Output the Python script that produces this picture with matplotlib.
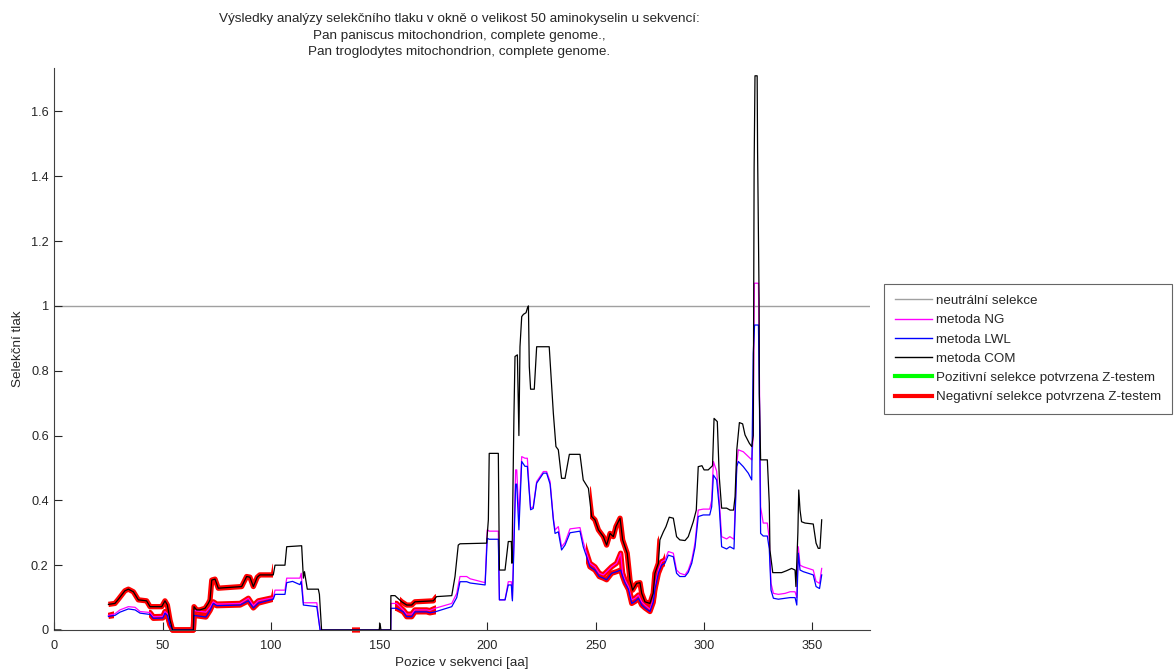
import numpy as np
import matplotlib
matplotlib.use("Agg")
import matplotlib.pyplot as plt
from matplotlib.patches import Rectangle
from matplotlib.lines import Line2D
from matplotlib.ticker import FormatStrFormatter

plt.rcParams['font.family'] = ['Liberation Sans', 'DejaVu Sans']

# ---------------- data ----------------
com_x = [0, 3, np.nan,
         25, 28, 29.6, 32.6, 34.2, 36.5, 38.8, 42.6, 44.2, 49.6, 51.1, 52.2, 53.4, 54.6, 64.2, 64.5,
         65.7, 67.2, 69.6, 71.1, 71.9, 72.7, 74.2, 75.7, 86.5, 88.8, 90.3, 91.9, 93.7, 94.9, 101.1,
         101.9, 106.5, 107.3, 114.2, 115.0, 115.5, 116.8, 121.9, 122.4, 123.4, 150, 150.4, 150.8,
         155.3, 155.4, 157.3, 160.4, 162.7, 165, 166.5, 175, 176.5, 183.5, 185, 186.5, 187.3, 199.6,
         200.4, 200.8, 205, 205.5, 208.1, 209.6, 211, 211.3, 212.2, 212.7, 213.8, 214.5, 215, 215.8,
         216.6, 217.8, 218.4, 218.9, 219.3, 219.9, 221.6, 222.7, 228.5, 230.4, 231.6, 232.7, 234.2,
         235.8, 237.8, 242.7, 244.2, 246.6, 248.1, 249.6, 251.2, 253.5, 255, 256.6, 258.1, 259.3,
         261.2, 262.4, 264.5, 265.8, 267, 268.9, 270.4, 271.2, 272.7, 275, 276.5, 277.3, 278.9,
         279.6, 281.2, 282.4, 283.9, 285.8, 287.3, 288.8, 291.2, 292.7, 295, 296.4, 297.3, 299,
         300, 301.9, 303.9, 304.6, 306.1, 307, 308.1, 310.4, 312, 313.6, 314.3, 315.1, 316.3, 317.8,
         318.9, 320.9, 322, 322.7, 323.1, 323.5, 324.5, 324.7, 325.1, 325.4, 325.5, 326.1, 329.2,
         330.1, 330.4, 331.7, 335.8, 338.1, 340.4, 342, 342.4, 343.3, 343.7, 344.3, 345, 346.6,
         350.4, 351.7, 352.7, 353.5, 354.3]
com_y = [0, 0, np.nan,
         0.079, 0.082, 0.095, 0.121, 0.126, 0.118, 0.093, 0.090, 0.072, 0.072, 0.090, 0.077, 0.031, 0, 0, 0.072,
         0.062, 0.062, 0.067, 0.082, 0.093, 0.154, 0.157, 0.129, 0.134, 0.165, 0.163, 0.134, 0.163, 0.170, 0.170,
         0.200, 0.200, 0.257, 0.260, 0.160, 0.180, 0.126, 0.126, 0.110, 0, 0, 0.020, 0,
         0, 0.106, 0.106, 0.087, 0.077, 0.077, 0.087, 0.090, 0.103, 0.106, 0.165, 0.262, 0.266, 0.268,
         0.340, 0.545, 0.545, 0.185, 0.185, 0.273, 0.273, 0.206, 0.658, 0.844, 0.849, 0.600, 0.874, 0.967,
         0.974, 0.979, 0.993, 1.000, 0.813, 0.743, 0.743, 0.874, 0.874, 0.669, 0.566, 0.556, 0.468,
         0.468, 0.542, 0.542, 0.463, 0.437, 0.350, 0.340, 0.309, 0.288, 0.262, 0.298, 0.288, 0.319,
         0.345, 0.278, 0.237, 0.154, 0.123, 0.144, 0.146, 0.113, 0.087, 0.082, 0.113, 0.175, 0.206,
         0.278, 0.303, 0.319, 0.348, 0.345, 0.288, 0.278, 0.276, 0.288, 0.334, 0.370, 0.504, 0.507,
         0.494, 0.494, 0.507, 0.653, 0.643, 0.473, 0.376, 0.376, 0.370, 0.370, 0.411, 0.556, 0.640, 0.636,
         0.602, 0.576, 0.566, 0.600, 1.426, 1.710, 1.710, 1.476, 1.200, 1.018, 0.730, 0.525, 0.525,
         0.391, 0.247, 0.177, 0.177, 0.183, 0.190, 0.185, 0.134, 0.300, 0.432, 0.370, 0.334, 0.330,
         0.327, 0.268, 0.252, 0.252, 0.340]

ng_x = [25, 27.5, 28, 30.3, 34.2, 37.3, 39.6, 44.2, 45.7, 50.1, 51.1, 52.2, 53.4, 54.6, 64.2, 64.5,
        70, 71.9, 73.4, 75, 85.8, 89.6, 91.9, 94.2, 101.1, 101.9, 106.5, 107.3, 113.4, 114, 115,
        121.2, 122.7, 155.3, 155.4, 158, 161.1, 162.7, 165, 166.5, 171.9, 173.4, 175.8, 183.5, 185.8,
        187.3, 190.4, 192, 198.9, 199.9, 200.8, 205, 205.5, 208.1, 209.6, 211, 211.5, 213, 213.5,
        214.5, 215.8, 217.3, 218.4, 219.3, 219.9, 221.1, 222.7, 225.8, 227.3, 228.9, 230.4, 231.2,
        232.7, 234.2, 235.8, 238.1, 242.7, 244.2, 245.8, 247.3, 249.6, 251.6, 253.5, 255, 257.3,
        259.6, 261.5, 262.4, 263.5, 265.1, 266.6, 268.1, 269.7, 271.2, 272.7, 275, 276.5, 277.3,
        278.9, 280.4, 281.9, 283.5, 285.8, 287.3, 288.8, 291.2, 292.7, 294.3, 295.8, 297.3, 299.6,
        302.6, 303.5, 304.3, 305.8, 307, 308.1, 310.4, 311.9, 313.8, 315.1, 315.8, 318.1, 320.4,
        322, 322.7, 323.2, 325.1, 325.5, 325.8, 326.1, 327.3, 329.2, 330.1, 330.9, 332, 334.3,
        337.4, 339.7, 342, 342.8, 343.5, 344.3, 345.8, 350.4, 351.7, 353.3, 354.3]
ng_y = [0.045, 0.049, 0.050, 0.062, 0.072, 0.070, 0.057, 0.054, 0.041, 0.042, 0.057, 0.050, 0.020, 0, 0, 0.060,
        0.055, 0.070, 0.087, 0.080, 0.082, 0.098, 0.075, 0.090, 0.100, 0.123, 0.123, 0.160, 0.160, 0.175, 0.084,
        0.084, 0, 0, 0.082, 0.082, 0.062, 0.049, 0.049, 0.062, 0.062, 0.060, 0.067, 0.082, 0.113,
        0.165, 0.165, 0.158, 0.146, 0.309, 0.305, 0.305, 0.093, 0.093, 0.149, 0.149, 0.096, 0.494, 0.494,
        0.350, 0.535, 0.530, 0.530, 0.432, 0.376, 0.380, 0.458, 0.489, 0.489, 0.458, 0.345, 0.309,
        0.319, 0.257, 0.270, 0.312, 0.316, 0.272, 0.237, 0.206, 0.195, 0.175, 0.170, 0.180, 0.195,
        0.206, 0.237, 0.175, 0.154, 0.134, 0.093, 0.098, 0.108, 0.087, 0.077, 0.064, 0.093, 0.134,
        0.185, 0.211, 0.216, 0.242, 0.237, 0.185, 0.175, 0.170, 0.185, 0.216, 0.268, 0.370, 0.373,
        0.373, 0.400, 0.520, 0.490, 0.400, 0.288, 0.281, 0.288, 0.280, 0.514, 0.556, 0.550, 0.535,
        0.525, 0.600, 1.070, 1.070, 0.813, 0.576, 0.380, 0.330, 0.330, 0.280, 0.144, 0.113, 0.110,
        0.113, 0.118, 0.118, 0.100, 0.257, 0.200, 0.195, 0.185, 0.150, 0.144, 0.190]

lwl_x = [25, 28, 30.3, 34.2, 37.3, 39.6, 44.2, 45.7, 50.1, 51.1, 52.2, 53.4, 54.6, 64.2, 64.5,
         70, 71.9, 73.4, 75, 85.8, 89.6, 91.9, 94.2, 101.1, 101.9, 106.5, 107.3, 110, 113.4, 114, 115,
         121.2, 122.7, 155.3, 155.4, 158, 161.1, 162.7, 165, 166.5, 171.9, 173.4, 175.8, 183.5, 185.8,
         187.3, 190.4, 192, 198.9, 199.9, 200.8, 205, 205.5, 208.1, 209.6, 211, 211.5, 213, 213.5,
         214.5, 215.8, 217.3, 218.4, 219.3, 219.9, 221.1, 222.7, 225.8, 227.3, 228.9, 230.4, 231.2,
         232.7, 234.2, 235.8, 238.1, 242.7, 244.2, 245.8, 247.3, 249.6, 251.6, 253.5, 255, 257.3,
         259.6, 261.5, 262.4, 263.5, 265.1, 266.6, 268.1, 269.7, 271.2, 272.7, 275, 276.5, 277.3,
         278.9, 280.4, 281.9, 283.5, 285.8, 287.3, 288.8, 291.2, 292.7, 294.3, 295.8, 297.3, 299.6,
         302.6, 303.5, 304.3, 305.8, 307, 308.1, 310.4, 311.9, 313.8, 315.1, 315.8, 318.1, 320.4,
         322, 322.7, 323.3, 325.1, 325.5, 325.8, 326.1, 327.3, 329.2, 330.1, 330.9, 332, 334.3,
         337.4, 339.7, 342, 342.8, 343.5, 344.3, 345.8, 350.4, 351.7, 353.3, 354.3]
lwl_y = [0.042, 0.045, 0.055, 0.065, 0.062, 0.052, 0.048, 0.036, 0.037, 0.052, 0.045, 0.015, 0, 0, 0.045,
         0.040, 0.060, 0.082, 0.075, 0.077, 0.090, 0.068, 0.083, 0.095, 0.110, 0.110, 0.146, 0.150, 0.140, 0.150, 0.077,
         0.072, 0, 0, 0.067, 0.067, 0.056, 0.041, 0.041, 0.056, 0.056, 0.053, 0.056, 0.072, 0.100,
         0.149, 0.149, 0.145, 0.139, 0.283, 0.280, 0.280, 0.093, 0.093, 0.139, 0.139, 0.090, 0.450, 0.450,
         0.309, 0.520, 0.505, 0.505, 0.422, 0.371, 0.375, 0.453, 0.484, 0.484, 0.450, 0.340, 0.298,
         0.303, 0.247, 0.262, 0.300, 0.305, 0.257, 0.225, 0.195, 0.185, 0.165, 0.160, 0.155, 0.175,
         0.180, 0.185, 0.165, 0.145, 0.125, 0.082, 0.088, 0.098, 0.077, 0.068, 0.057, 0.085, 0.125,
         0.175, 0.200, 0.206, 0.231, 0.226, 0.175, 0.165, 0.165, 0.178, 0.206, 0.255, 0.350, 0.355,
         0.355, 0.380, 0.478, 0.463, 0.380, 0.257, 0.250, 0.257, 0.250, 0.504, 0.520, 0.504, 0.484,
         0.463, 0.854, 0.941, 0.941, 0.750, 0.500, 0.298, 0.290, 0.290, 0.250, 0.123, 0.098, 0.095,
         0.098, 0.100, 0.100, 0.077, 0.237, 0.185, 0.180, 0.170, 0.134, 0.128, 0.170]

# ranges where the Z-test confirmed negative selection
com_neg = [(25, 101.1), (137.3, 141.1), (159.5, 176), (247.5, 279)]
ng_neg = [(25, 27.5), (43.5, 101.1), (157.5, 176), (245.5, 282)]
lwl_neg = [(25, 27.5), (43.5, 101.1), (157.5, 176), (245.5, 282)]
neutral_level = 1.0

title_lines = ["Výsledky analýzy selekčního tlaku v okně o velikost 50 aminokyselin u sekvencí:",
               "Pan paniscus mitochondrion, complete genome.,",
               "Pan troglodytes mitochondrion, complete genome."]
legend_labels = ["neutrální selekce", "metoda NG", "metoda LWL", "metoda COM",
                 "Pozitivní selekce potvrzena Z-testem", "Negativní selekce potvrzena Z-testem"]
x_ticks = [0, 50, 100, 150, 200, 250, 300, 350]
y_ticks = [0, 0.2, 0.4, 0.6, 0.8, 1.0, 1.2, 1.4, 1.6]

# ---------------- plot ----------------
W, H = 1174, 669
fig = plt.figure(figsize=(W / 100, H / 100), dpi=100)
ax = fig.add_axes([54.3 / W, 1 - 630 / H, (870 - 54.3) / W, (630 - 67.7) / H])
ax.set_xlim(0, 376.6)
ax.set_ylim(0, 1.735)

C_NEU = '#a0a0a0'
C_NG = '#ff00ff'
C_LWL = '#0000ff'
C_COM = '#000000'
C_RED = '#ff0000'
C_GRN = '#00ff00'
C_TXT = '#262626'

ax.axhline(neutral_level, color=C_NEU, lw=1.0, zorder=1)


def red_overlay(xs, ys, ranges):
    for (a, b) in ranges:
        ln, = ax.plot(xs, ys, color=C_RED, lw=3.8, solid_capstyle='butt', zorder=2)
        clip = Rectangle((a, -1), b - a, 5, transform=ax.transData, visible=False)
        ax.add_patch(clip)
        ln.set_clip_path(clip)


red_overlay(ng_x, ng_y, ng_neg)
red_overlay(lwl_x, lwl_y, lwl_neg)
red_overlay(com_x, com_y, com_neg)

ax.plot(ng_x, ng_y, color=C_NG, lw=0.9, zorder=3)
ax.plot(lwl_x, lwl_y, color=C_LWL, lw=0.9, zorder=3)
ax.plot(com_x, com_y, color=C_COM, lw=0.9, zorder=4)

ax.set_xticks(x_ticks)
ax.set_yticks(y_ticks)
ax.yaxis.set_major_formatter(FormatStrFormatter('%g'))
ax.tick_params(direction='in', length=5.5, width=0.8, labelsize=9.2, colors=C_TXT,
               top=False, right=False)
ax.tick_params(axis='x', pad=7.5)
ax.tick_params(axis='y', pad=4)
for s in ['top', 'right']:
    ax.spines[s].set_visible(False)
for s in ['left', 'bottom']:
    ax.spines[s].set_color('#404040')
    ax.spines[s].set_linewidth(0.8)

ax.set_xlabel("Pozice v sekvenci [aa]", fontsize=9.7, color=C_TXT, labelpad=3.5)
ax.set_ylabel("Selekční tlak", fontsize=9.7, color=C_TXT, labelpad=5)

fig.text(459 / W, 1 - 13 / H, "\n".join(title_lines), ha='center', va='top',
         fontsize=9.7, color=C_TXT, linespacing=1.5)

handles = [Line2D([], [], color=C_NEU, lw=1.0),
           Line2D([], [], color=C_NG, lw=1.0),
           Line2D([], [], color=C_LWL, lw=1.0),
           Line2D([], [], color=C_COM, lw=1.0),
           Line2D([], [], color=C_GRN, lw=3.0),
           Line2D([], [], color=C_RED, lw=3.0)]
leg = fig.legend(handles, legend_labels, loc='upper left', bbox_to_anchor=(884 / W, 1 - 284 / H),
                 bbox_transform=fig.transFigure, fontsize=9.6, frameon=True, fancybox=False,
                 edgecolor='#404040', borderaxespad=0, handlelength=2.8, handletextpad=0.3,
                 labelspacing=0.52, borderpad=0.8)
leg.get_frame().set_linewidth(0.8)
for t in leg.get_texts():
    t.set_color(C_TXT)

fig.savefig("out.png", dpi=100)
